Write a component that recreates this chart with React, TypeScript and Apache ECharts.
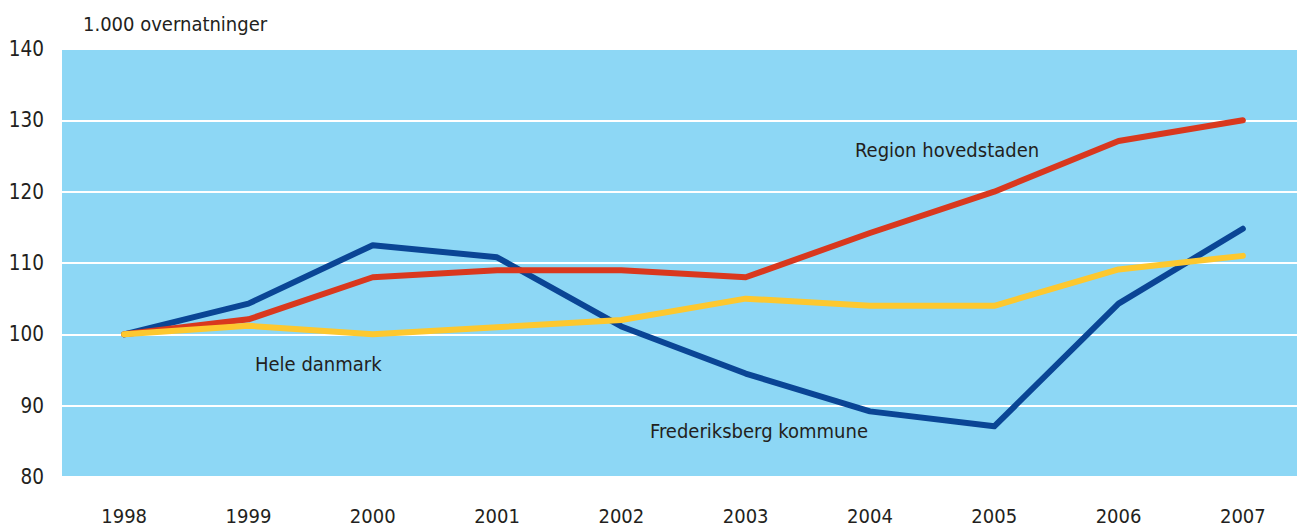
import React, { useEffect, useRef } from "react";
import * as echarts from "echarts";

const years = ["1998", "1999", "2000", "2001", "2002", "2003", "2004", "2005", "2006", "2007"];
const frederiksberg = [100, 104.3, 112.5, 110.8, 101.1, 94.5, 89.2, 87.1, 104.3, 114.8];
const region = [100, 102.1, 108, 109, 109, 108, 114.2, 120, 127.1, 130];
const heleDanmark = [100, 101.2, 100, 101, 102, 105, 104, 104, 109.1, 111];
const yTicks = { min: 80, max: 140, interval: 10 };

const FONT = "'Liberation Sans Narrow', 'DejaVu Sans Condensed', 'Open Sans', sans-serif";
const TEXT = "#231f20";

export default function App() {
  const ref = useRef<HTMLDivElement>(null);
  useEffect(() => {
    if (!ref.current) return;
    const chart = echarts.init(ref.current, null, { renderer: "svg" });
    chart.setOption({
      animation: false,
      textStyle: { fontFamily: FONT },
      grid: { left: 62, top: 49, bottom: 50, width: 1243, backgroundColor: "#8dd7f5", show: true, borderWidth: 0 },
      xAxis: {
        type: "category",
        data: years,
        boundaryGap: true,
        axisLine: { show: false },
        axisTick: { show: false },
        axisLabel: { color: TEXT, fontSize: 20, fontFamily: FONT, margin: 29 },
        splitLine: { show: false },
      },
      yAxis: {
        type: "value",
        min: yTicks.min,
        max: yTicks.max,
        interval: yTicks.interval,
        axisLine: { show: false },
        axisTick: { show: false },
        axisLabel: { color: TEXT, fontSize: 20.5, fontFamily: FONT, margin: 18 },
        splitLine: { show: true, lineStyle: { color: "#ffffff", width: 2 } },
      },
      series: [
        {
          name: "Frederiksberg kommune",
          type: "line",
          data: frederiksberg,
          symbol: "none",
          lineStyle: { color: "#0a4595", width: 6, cap: "round", join: "round" },
        },
        {
          name: "Region hovedstaden",
          type: "line",
          data: region,
          symbol: "none",
          lineStyle: { color: "#d9381e", width: 6, cap: "round", join: "round" },
        },
        {
          name: "Hele danmark",
          type: "line",
          data: heleDanmark,
          symbol: "none",
          lineStyle: { color: "#fdc82f", width: 6, cap: "round", join: "round" },
        },
      ],
      graphic: [
        { type: "text", left: 83, top: 14, style: { text: "1.000 overnatninger", fill: TEXT, fontSize: 20, fontFamily: FONT } },
        { type: "text", left: 855, top: 140, style: { text: "Region hovedstaden", fill: TEXT, fontSize: 20, fontFamily: FONT } },
        { type: "text", left: 255, top: 354, style: { text: "Hele danmark", fill: TEXT, fontSize: 20, fontFamily: FONT } },
        { type: "text", left: 650, top: 421, style: { text: "Frederiksberg kommune", fill: TEXT, fontSize: 20, fontFamily: FONT } },
      ],
    });
    return () => chart.dispose();
  }, []);
  return (
    <div style={{ position: "fixed", left: 0, top: 0, width: 1297, height: 527, overflow: "hidden", background: "#fff" }}>
      <div ref={ref} style={{ width: 1305, height: 527 }} />
    </div>
  );
}
